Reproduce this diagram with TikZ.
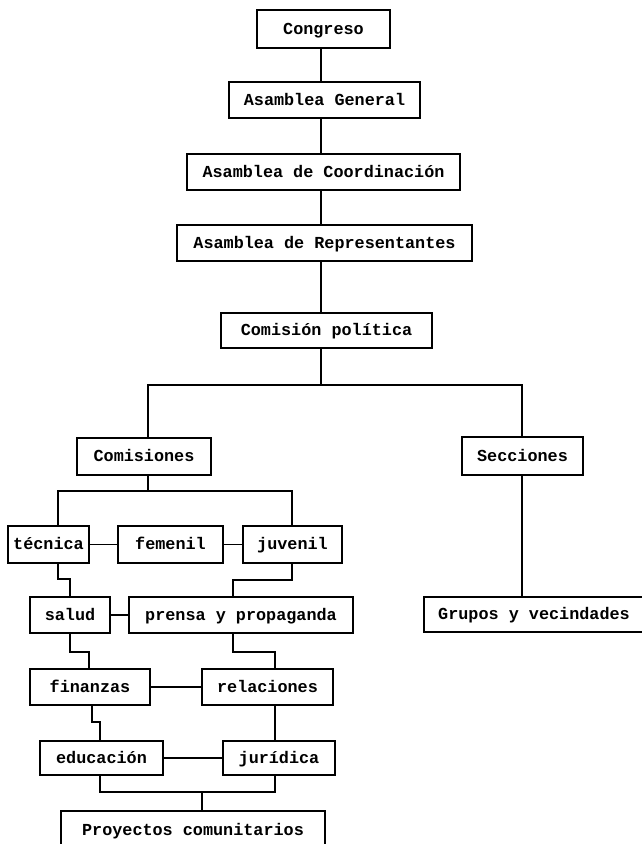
\documentclass[tikz,border=0pt]{standalone}
\usepackage{fontspec}
\setmonofont{Liberation Mono}
\begin{document}
\begin{tikzpicture}[x=1pt,y=-1pt,
  box/.style={draw, line width=1.6pt, rectangle, inner sep=0pt, text height=12pt, text depth=2pt, font=\ttfamily\bfseries\fontsize{16.8}{18}\selectfont},
  conn/.style={line width=1.6pt}]
\clip (0,0) rectangle (642,844);
\fill[white] (0,0) rectangle (642,844);
% top chain
\node[box, minimum width=133pt, minimum height=38pt] (congreso) at (323.5,29) {Congreso};
\node[box, minimum width=191pt, minimum height=36pt] (ag) at (324.5,100) {Asamblea General};
\node[box, minimum width=273pt, minimum height=36pt] (ac) at (323.5,172) {Asamblea de Coordinación};
\node[box, minimum width=295pt, minimum height=36pt] (ar) at (324.5,243) {Asamblea de Representantes};
\node[box, minimum width=211pt, minimum height=35pt] (cp) at (326.5,330.5) {Comisión política};
% second level
\node[box, minimum width=134pt, minimum height=37pt] (comisiones) at (144,456.5) {Comisiones};
\node[box, minimum width=121pt, minimum height=38pt] (secciones) at (522.5,456) {Secciones};
\node[box, minimum width=220pt, minimum height=35pt] (grupos) at (534,614.5) {Grupos y vecindades};
% commissions
\node[box, minimum width=81pt, minimum height=37pt] (tecnica) at (48.5,544.5) {técnica};
\node[box, minimum width=105pt, minimum height=37pt] (femenil) at (170.5,544.5) {femenil};
\node[box, minimum width=99pt, minimum height=37pt] (juvenil) at (292.5,544.5) {juvenil};
\node[box, minimum width=80pt, minimum height=36pt] (salud) at (70,615) {salud};
\node[box, minimum width=224pt, minimum height=36pt] (prensa) at (241,615) {prensa y propaganda};
\node[box, minimum width=120pt, minimum height=36pt] (finanzas) at (90,687) {finanzas};
\node[box, minimum width=131pt, minimum height=36pt] (relaciones) at (267.5,687) {relaciones};
\node[box, minimum width=123pt, minimum height=34pt] (educacion) at (101.5,758) {educación};
\node[box, minimum width=112pt, minimum height=34pt] (juridica) at (279,758) {jurídica};
\node[box, minimum width=264pt, minimum height=38pt] (proyectos) at (193,830) {Proyectos comunitarios};
% helper coordinates
\coordinate (spine) at (321,0);
\coordinate (jl) at (148,385);
\coordinate (jr) at (522,385);
\coordinate (cl) at (58,491);
\coordinate (cr) at (292,491);
\coordinate (b1) at (70,579);
\coordinate (b2) at (233,580);
\coordinate (b3) at (89,652);
\coordinate (b4) at (275,652);
\coordinate (b5) at (100,722);
\coordinate (b6) at (202,792);
% connectors top chain
\draw[conn] (congreso.south -| spine) -- (ag.north -| spine);
\draw[conn] (ag.south -| spine) -- (ac.north -| spine);
\draw[conn] (ac.south -| spine) -- (ar.north -| spine);
\draw[conn] (ar.south -| spine) -- (cp.north -| spine);
\draw[conn] (cp.south -| spine) -- (spine |- jl);
\draw[conn] (comisiones.north -| jl) -- (jl) -- (jr) -- (secciones.north -| jr);
\draw[conn] (secciones.south -| jr) -- (grupos.north -| jr);
% commissions tree
\draw[conn] (comisiones.south -| jl) -- (jl |- cl);
\draw[conn] (tecnica.north -| cl) -- (cl) -- (cr) -- (juvenil.north -| cr);
\draw[conn] (tecnica.east) -- (femenil.west);
\draw[conn] (femenil.east) -- (juvenil.west);
\draw[conn] (tecnica.south -| cl) |- (b1) -- (salud.north -| b1);
\draw[conn] (juvenil.south -| cr) |- (b2) -- (prensa.north -| b2);
\draw[conn] (salud.east) -- (prensa.west);
\draw[conn] (salud.south -| b1) |- (b3) -- (finanzas.north -| b3);
\draw[conn] (prensa.south -| b2) |- (b4) -- (relaciones.north -| b4);
\draw[conn] (finanzas.east) -- (relaciones.west);
\draw[conn] (finanzas.south -| 92,0) |- (b5) -- (educacion.north -| b5);
\draw[conn] (relaciones.south -| b4) -- (juridica.north -| b4);
\draw[conn] (educacion.east) -- (juridica.west);
\draw[conn] (educacion.south -| b5) |- (b6) -| (juridica.south -| b4);
\draw[conn] (b6) -- (proyectos.north -| b6);
\end{tikzpicture}
\end{document}
